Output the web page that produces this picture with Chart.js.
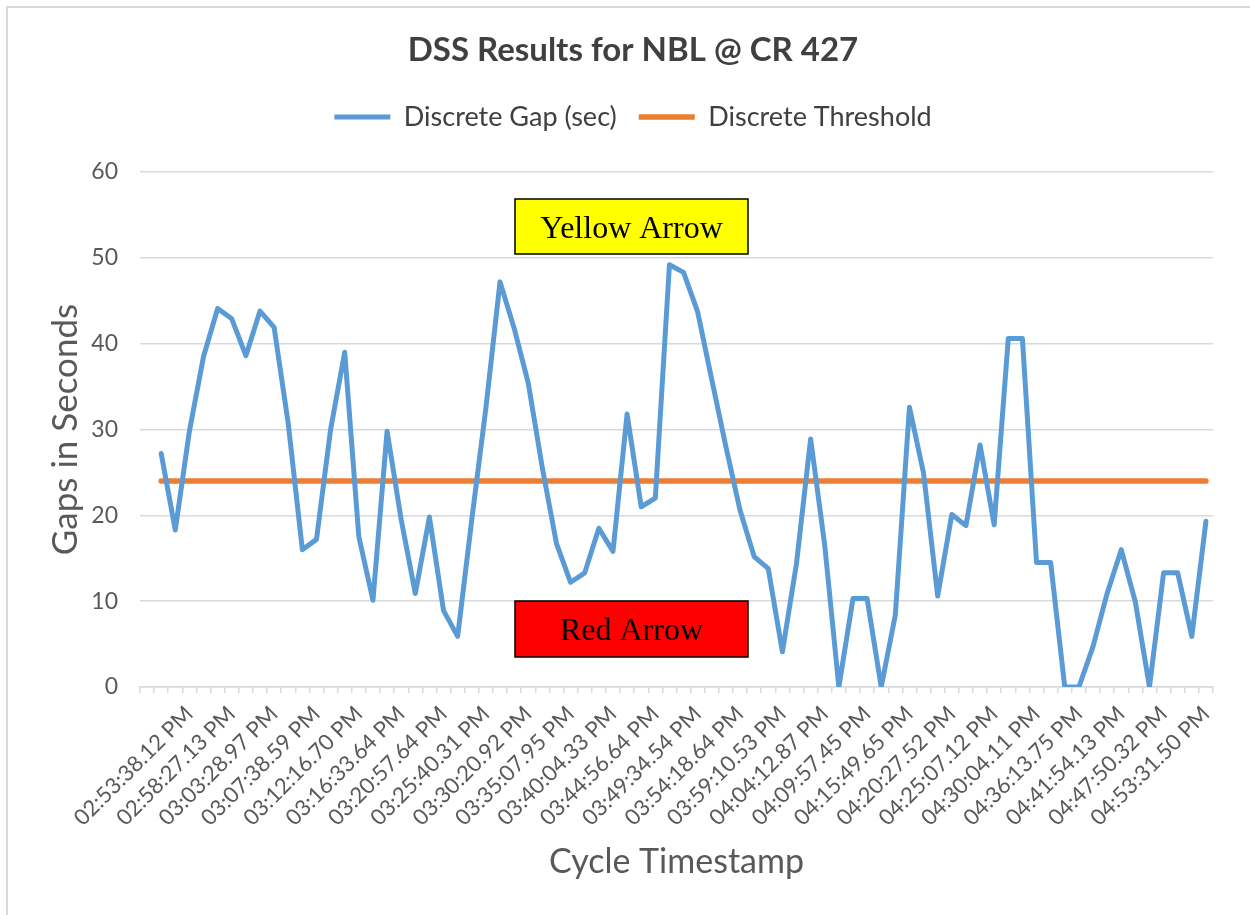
<!DOCTYPE html>
<html>
<head>
<meta charset="utf-8">
<title>DSS Results for NBL @ CR 427</title>
<script src="https://cdn.jsdelivr.net/npm/chart.js@4"></script>
<style>
  html, body { margin: 0; padding: 0; background: #fff; }
  #chart-wrap { width: 1250px; height: 915px; }
</style>
</head>
<body>
<div id="chart-wrap"><canvas id="dss-chart" width="1250" height="915"></canvas></div>
<script>
// Discrete gap per cycle, seconds
const gapSeconds = [
  27.2, 18.3, 29.8, 38.5, 44.1, 42.9, 38.6, 43.8, 41.9, 30.7,
  16.0, 17.2, 30.0, 39.0, 17.5, 10.1, 29.8, 19.5, 10.9, 19.8,
  8.9, 5.9, 19.5, 32.5, 47.2, 41.8, 35.4, 25.5, 16.7, 12.2,
  13.3, 18.5, 15.8, 31.8, 21.0, 22.0, 49.2, 48.3, 43.7, 35.8,
  28.0, 20.6, 15.2, 13.8, 4.1, 14.4, 28.9, 16.5, 0, 10.3,
  10.3, 0, 8.4, 32.6, 24.9, 10.6, 20.1, 18.8, 28.2, 18.9,
  40.6, 40.6, 14.5, 14.5, 0, 0, 4.7, 10.9, 16.0, 9.9,
  0, 13.3, 13.3, 5.9, 19.3
];

// Timestamps printed under the axis (every third cycle)
const timeLabels = [
  "02:53:38.12 PM", "02:58:27.13 PM", "03:03:28.97 PM", "03:07:38.59 PM",
  "03:12:16.70 PM", "03:16:33.64 PM", "03:20:57.64 PM", "03:25:40.31 PM",
  "03:30:20.92 PM", "03:35:07.95 PM", "03:40:04.33 PM", "03:44:56.64 PM",
  "03:49:34.54 PM", "03:54:18.64 PM", "03:59:10.53 PM", "04:04:12.87 PM",
  "04:09:57.45 PM", "04:15:49.65 PM", "04:20:27.52 PM", "04:25:07.12 PM",
  "04:30:04.11 PM", "04:36:13.75 PM", "04:41:54.13 PM", "04:47:50.32 PM",
  "04:53:31.50 PM"
];

const thresholdSeconds = 24;
const yMin = 0, yMax = 60, yStep = 10;

// first category is empty, then one per cycle; label every 3rd
const cycleLabels = [""];
gapSeconds.forEach((v, i) => {
  const n = i + 1;
  cycleLabels.push(n % 3 === 0 ? timeLabels[n / 3 - 1] : "");
});

const gapData = [null].concat(gapSeconds);
const thresholdData = [null].concat(gapSeconds.map(() => thresholdSeconds));

// light frame + the two text boxes
const chartDecor = {
  id: "chartDecor",
  beforeInit(chart) {
    // leave room between legend and plot like the original
    const fit = chart.legend.fit;
    chart.legend.fit = function () {
      fit.call(this);
      this.height += 31.5;
    };
  },
  beforeDraw(chart) {
    const ctx = chart.ctx;
    ctx.save();
    ctx.strokeStyle = "#d9d9d9";
    ctx.lineWidth = 2;
    ctx.beginPath();
    ctx.moveTo(7, chart.height);
    ctx.lineTo(7, 7);
    ctx.lineTo(chart.width, 7);
    ctx.stroke();
    ctx.restore();
  },
  afterDraw(chart) {
    const ctx = chart.ctx;
    const boxes = [
      { text: "Yellow Arrow", fill: "#ffff00", x: 515, y: 199, w: 233, h: 55 },
      { text: "Red Arrow", fill: "#ff0000", x: 515, y: 601, w: 233, h: 56 }
    ];
    ctx.save();
    boxes.forEach(b => {
      ctx.fillStyle = b.fill;
      ctx.fillRect(b.x, b.y, b.w, b.h);
      ctx.strokeStyle = "#000";
      ctx.lineWidth = 1.5;
      ctx.strokeRect(b.x, b.y, b.w, b.h);
      ctx.fillStyle = "#000";
      ctx.font = '32px "Liberation Serif", "Times New Roman", serif';
      ctx.textAlign = "center";
      ctx.textBaseline = "middle";
      ctx.fillText(b.text, b.x + b.w / 2, b.y + b.h / 2 + 3);
    });
    ctx.restore();
  }
};

const ctx = document.getElementById("dss-chart").getContext("2d");
const dssChart = new Chart(ctx, {
  type: "line",
  data: {
    labels: cycleLabels,
    datasets: [
      {
        label: "Discrete Gap (sec)",
        data: gapData,
        borderColor: "#5b9bd5",
        backgroundColor: "#5b9bd5",
        borderWidth: 5,
        borderCapStyle: "round",
        borderJoinStyle: "round",
        pointRadius: 0,
        tension: 0
      },
      {
        label: "Discrete Threshold",
        data: thresholdData,
        borderColor: "#ed7d31",
        backgroundColor: "#ed7d31",
        borderWidth: 5.5,
        borderCapStyle: "round",
        pointRadius: 0,
        tension: 0
      }
    ]
  },
  options: {
    responsive: false,
    animation: false,
    layout: { padding: { left: 16, right: 0, top: 0, bottom: 0 } },
    plugins: {
      title: {
        display: true,
        text: "DSS Results for NBL @ CR 427",
        color: "#404040",
        font: { family: "Lato", size: 33, weight: "bold", lineHeight: 1.0 },
        padding: { top: 33.5, bottom: 15 }
      },
      legend: {
        position: "top",
        labels: {
          usePointStyle: true,
          pointStyle: "line",
          pointStyleWidth: 56,
          color: "#404040",
          font: { family: "Lato", size: 27 },
          padding: 22
        }
      },
      tooltip: { enabled: false }
    },
    scales: {
      x: {
        offset: true,
        grid: {
          offset: true,
          drawOnChartArea: false,
          drawTicks: true,
          tickLength: 6,
          color: "#d9d9d9",
          lineWidth: 1.5
        },
        border: { display: true, color: "#d9d9d9", width: 1.5 },
        ticks: {
          autoSkip: false,
          minRotation: 45,
          maxRotation: 45,
          padding: 8,
          color: "#595959",
          font: { family: "Lato", size: 22 }
        },
        title: {
          display: true,
          text: "Cycle Timestamp",
          color: "#595959",
          font: { family: "Lato", size: 34 },
          padding: { top: 0, bottom: 32.5 }
        },
        afterFit(scale) {
          scale.height = 228;
          scale.paddingRight = 37;
        }
      },
      y: {
        min: yMin,
        max: yMax,
        ticks: {
          stepSize: yStep,
          padding: 22,
          color: "#595959",
          font: { family: "Lato", size: 23 }
        },
        grid: { color: "#d9d9d9", lineWidth: 1.5, drawTicks: false },
        border: { display: false },
        title: {
          display: true,
          text: "Gaps in Seconds",
          color: "#595959",
          font: { family: "Lato", size: 35 },
          padding: { top: 29, bottom: 0 }
        },
        afterFit(scale) {
          scale.width = 124;
        }
      }
    }
  },
  plugins: [chartDecor]
});
</script>
</body>
</html>
